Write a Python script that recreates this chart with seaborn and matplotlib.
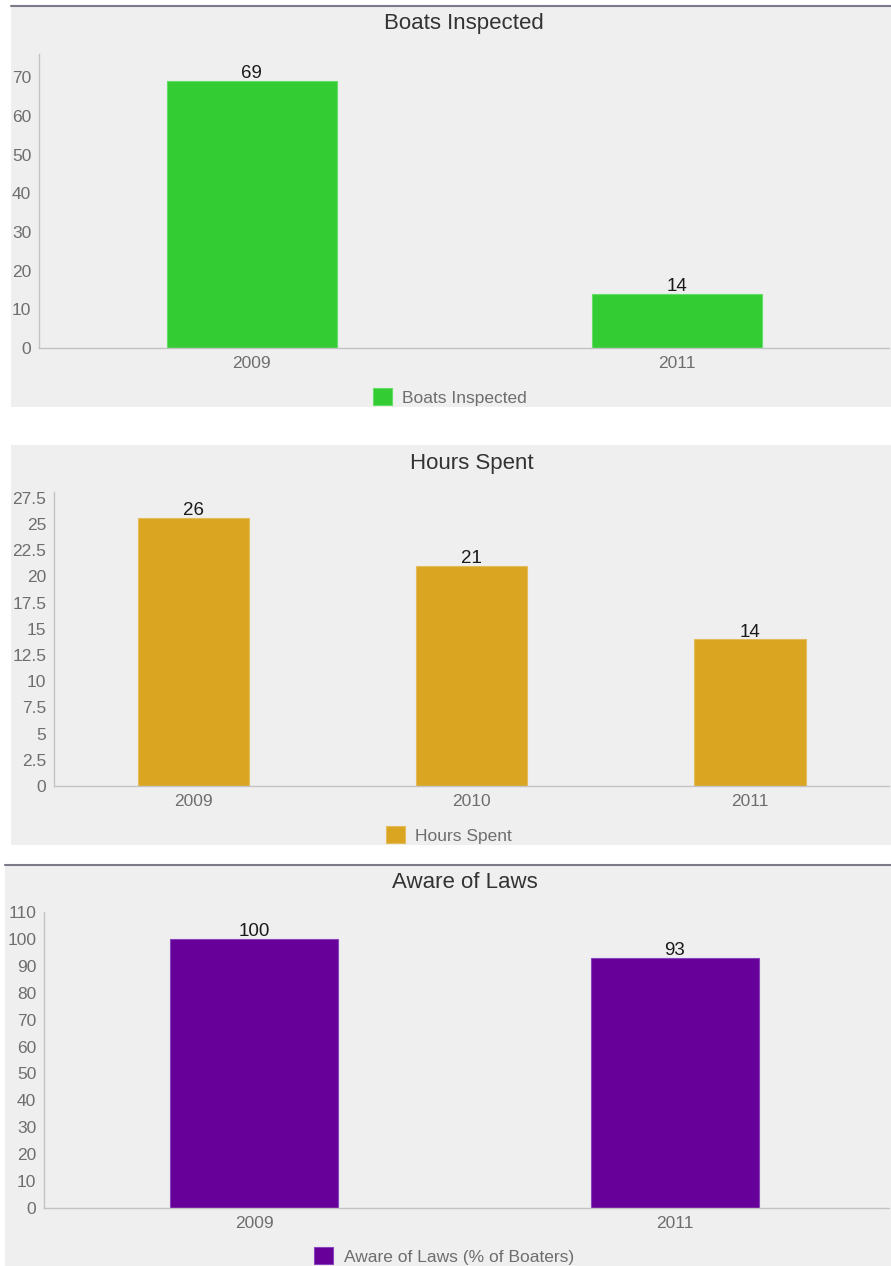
import matplotlib
matplotlib.use("Agg")
import matplotlib.pyplot as plt
from matplotlib.patches import Rectangle, Patch
from matplotlib.lines import Line2D
import seaborn as sns
import pandas as pd

sns.set_theme(style="white")
plt.rcParams['font.family'] = ['Liberation Sans', 'DejaVu Sans']

# ---- data ----
boats_years = ["2009", "2011"]
boats_values = [69, 14]
hours_years = ["2009", "2010", "2011"]
hours_values = [25.6, 21, 14]
aware_years = ["2009", "2011"]
aware_values = [100, 93]

boats_ticks = [0, 10, 20, 30, 40, 50, 60, 70]
hours_ticks = [0, 2.5, 5, 7.5, 10, 12.5, 15, 17.5, 20, 22.5, 25, 27.5]
aware_ticks = [0, 10, 20, 30, 40, 50, 60, 70, 80, 90, 100, 110]

W, H = 891, 1266
fig = plt.figure(figsize=(W / 100, H / 100), dpi=100)
fig.patch.set_facecolor("white")

BG = "#efefef"
AX_C = "#c3c3c3"
TXT_C = "#6e6e6e"


def fx(x):
    return x / W


def fy(y):
    return 1 - y / H


def panel(x0, y0, x1, y1, topline=False):
    fig.patches.append(Rectangle((fx(x0), fy(y1)), fx(x1 - x0), (y1 - y0) / H,
                                 transform=fig.transFigure, facecolor=BG,
                                 edgecolor="none", zorder=-10))
    if topline:
        fig.lines.append(Line2D([fx(x0), fx(x1)], [fy(y0), fy(y0)],
                                transform=fig.transFigure, color="#7a7a88",
                                linewidth=1.5, zorder=-5))


def fmt_label(v):
    return f"{v:.0f}"


def draw(rect, years, values, ticks, ylim, color, edge, title, title_y,
         legend_label, legend_y, legend_x=449, axis_right=None):
    left, top, right, bottom = rect
    ax = fig.add_axes([fx(left), fy(bottom), fx(right - left), (bottom - top) / H])
    ax.set_facecolor("none")
    df = pd.DataFrame({"year": years, "value": values})
    sns.barplot(data=df, x="year", y="value", ax=ax, color=color, width=0.4,
                saturation=1, edgecolor=edge, linewidth=0.8)
    ax.set_ylim(*ylim)
    ax.set_xlim(-0.5, len(years) - 0.5)
    ax.set_yticks(ticks)
    ax.set_yticklabels([f"{t:g}" for t in ticks])
    ax.set_xlabel("")
    ax.set_ylabel("")
    for s in ["top", "right"]:
        ax.spines[s].set_visible(False)
    for s in ["left", "bottom"]:
        ax.spines[s].set_color(AX_C)
        ax.spines[s].set_linewidth(1.0)
    ax.tick_params(axis="both", colors=AX_C, labelcolor=TXT_C, labelsize=12.5,
                   length=4, width=0.8, direction="out", pad=1.5)
    ax.tick_params(axis="x", pad=2)
    ax.bar_label(ax.containers[0], labels=[fmt_label(v) for v in values],
                 padding=-1, fontsize=13.5, color="#1a1a1a")
    fig.text(fx((left + right) / 2), fy(title_y), title, ha="center",
             va="center", fontsize=16, color="#333333")
    h = Patch(facecolor=color, edgecolor=edge, linewidth=0.8)
    fig.legend([h], [legend_label], loc="center",
               bbox_to_anchor=(fx(legend_x), fy(legend_y)), frameon=False,
               fontsize=12.5, labelcolor=TXT_C, handlelength=1.1,
               handleheight=1.1, handletextpad=0.6, borderpad=0)
    if axis_right is not None:
        # extend the baseline to the panel edge
        fig.lines.append(Line2D([fx(right), fx(axis_right)], [fy(bottom), fy(bottom)],
                                transform=fig.transFigure, color=AX_C, linewidth=1.0))
    return ax


panel(11, 6, 891, 407, topline=True)
panel(11, 445, 891, 845)
panel(5, 865, 891, 1266, topline=True)

draw((39, 54, 889, 348), boats_years, boats_values, boats_ticks, (0, 76),
     "#33cc33", "#66dd66", "Boats Inspected", 23, "Boats Inspected", 397, 450)
draw((54, 492, 889, 786), hours_years, hours_values, hours_ticks, (0, 28.05),
     "#daa520", "#e4bb5a", "Hours Spent", 463, "Hours Spent", 835, 449)
draw((44, 912, 885, 1208), aware_years, aware_values, aware_ticks, (0, 110),
     "#660099", "#8844bb", "Aware of Laws", 883, "Aware of Laws (% of Boaters)", 1256, 444,
     axis_right=889)

fig.savefig("out.png", dpi=100, facecolor="white")
